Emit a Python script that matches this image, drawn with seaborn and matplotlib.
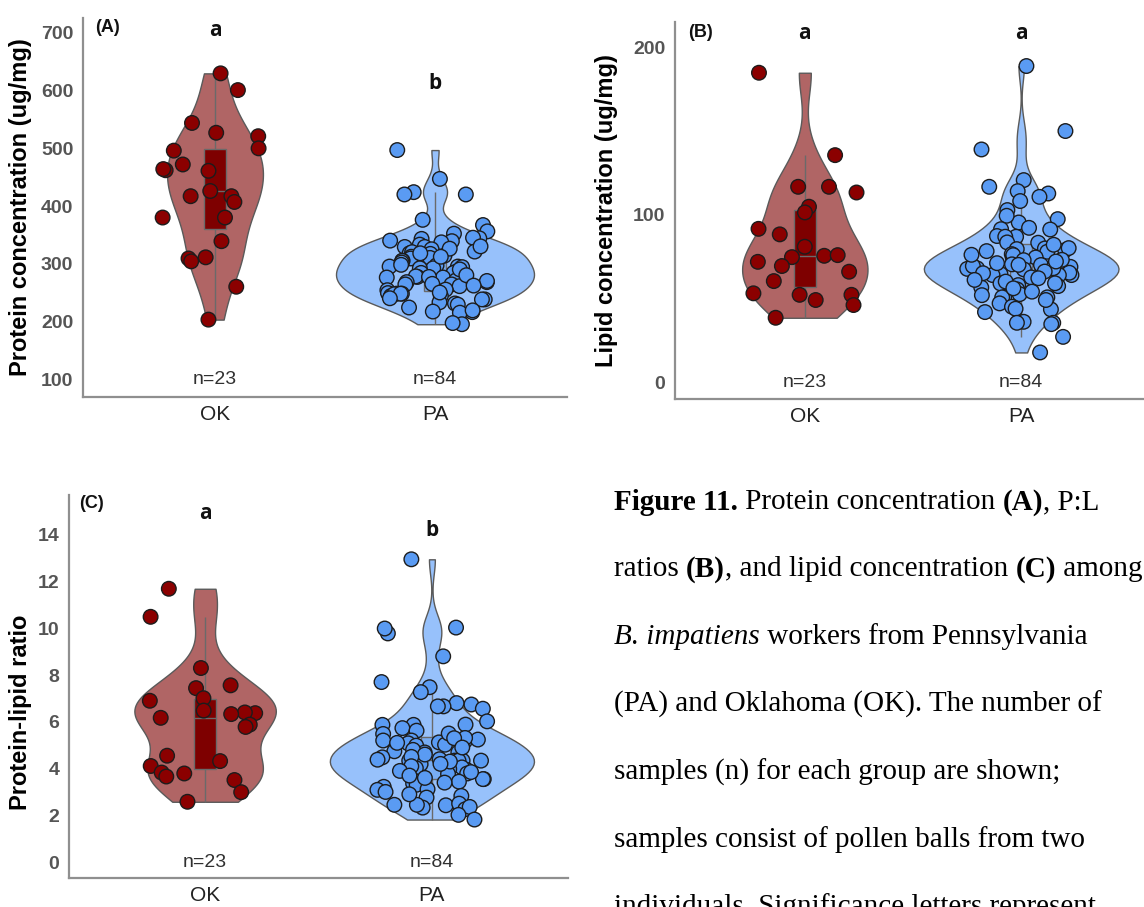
import numpy as np
import pandas as pd
import matplotlib
matplotlib.use("Agg")
import matplotlib.pyplot as plt
import seaborn as sns

# ---------------- data ----------------
sites = ["OK", "PA"]

protein_ok = [630, 601, 544, 527, 521, 500, 496, 472, 462, 461, 464, 426,
              417, 417, 407, 380, 380, 339, 309, 311, 304, 260, 203]
protein_pa = [497, 447, 420, 424, 420, 376, 367, 356, 352, 344, 345, 343,
              340, 339, 337, 333, 329, 329, 325, 318, 320, 317, 321, 314,
              312, 309, 310, 305, 305, 297, 295, 292, 292, 295, 294, 286,
              284, 284, 284, 277, 276, 278, 277, 276, 268, 268, 264, 271,
              264, 261, 265, 255, 254, 249, 248, 248, 244, 247, 244, 248,
              238, 231, 233, 229, 224, 238, 216, 215, 217, 219, 195, 197,
              330, 326, 318, 312, 302, 298, 290, 280, 270, 262, 250, 240]

lipid_ok = [184.7, 135.5, 116.6, 116.6, 113.2, 104.7, 101.3, 91.5, 88.2, 80.8,
            75.4, 75.8, 74.6, 71.8, 69.3, 65.9, 60.3, 52.1, 52.1, 53.0, 49.0,
            46.0, 38.4]
lipid_pa = [188.7, 149.9, 138.9, 120.6, 112.6, 110.6, 114.0, 116.6, 108.1, 102.7, 95.3, 99.3,
            97.3, 91.1, 91.3, 92.1, 87.2, 86.8, 86.8, 83.2, 83.4, 79.4, 79.8, 76.4,
            78.8, 78.2, 77.8, 74.4, 75.8, 74.4, 72.8, 70.3, 67.6, 67.9, 67.9, 67.3,
            66.4, 68.8, 69.9, 69.3, 64.5, 62.5, 63.9, 63.9, 65.3, 63.9, 57.9, 57.3,
            56.5, 58.9, 55.3, 50.6, 52.5, 51.9, 50.6, 50.6, 47.0, 41.8, 45.0, 43.8,
            43.4, 35.4, 36.0, 35.4, 34.6, 27.0, 17.7, 82.0, 80.0, 76.0, 73.0, 71.0,
            70.0, 68.0, 66.0, 65.0, 62.0, 61.0, 60.0, 59.0, 56.0, 54.0, 49.0, 72.0]

ratio_ok = [11.69, 10.49, 8.30, 7.56, 7.44, 7.01, 6.90, 6.48, 6.37, 6.40, 6.33,
            6.17, 5.88, 5.78, 4.55, 4.32, 4.11, 3.83, 3.79, 3.66, 3.51, 2.99, 2.58]
ratio_pa = [12.95, 9.78, 9.99, 10.03, 8.80, 7.70, 7.48, 7.27, 6.74, 6.80, 6.66, 6.66,
            6.56, 6.02, 5.87, 5.73, 5.88, 5.87, 5.62, 5.48, 5.20, 5.20, 5.08, 5.17,
            5.24, 5.31, 5.12, 5.02, 4.98, 4.74, 4.69, 4.69, 4.48, 4.38, 4.34, 4.34,
            4.34, 4.34, 4.34, 4.19, 4.02, 3.94, 4.05, 3.98, 3.79, 3.77, 3.55, 3.51,
            3.44, 3.55, 3.36, 3.40, 3.31, 3.12, 3.22, 3.09, 2.83, 2.76, 2.43, 2.50,
            2.33, 2.45, 2.45, 2.26, 2.36, 2.02, 1.82, 5.50, 5.30, 5.10, 4.90, 4.80,
            4.60, 4.50, 4.40, 4.30, 4.20, 4.10, 3.90, 3.85, 3.70, 3.60, 3.00, 2.90]

panel_tags = ["(A)", "(B)", "(C)"]
sig_protein = ["a", "b"]
sig_lipid = ["a", "a"]
sig_ratio = ["a", "b"]
ylab_protein = "Protein concentration (ug/mg)"
ylab_lipid = "Lipid concentration (ug/mg)"
ylab_ratio = "Protein-lipid ratio"
ticks_protein = [100, 200, 300, 400, 500, 600, 700]
ticks_lipid = [0, 100, 200]
ticks_ratio = [0, 2, 4, 6, 8, 10, 12, 14]

caption_lines = [
    [("Figure 11.", "bold", "normal"), (" Protein concentration ", "normal", "normal"),
     ("(A)", "bold", "normal"), (", P:L", "normal", "normal")],
    [("ratios ", "normal", "normal"), ("(B)", "bold", "normal"),
     (", and lipid concentration ", "normal", "normal"), ("(C)", "bold", "normal"),
     (" among", "normal", "normal")],
    [("B. impatiens", "normal", "italic"), (" workers from Pennsylvania", "normal", "normal")],
    [("(PA) and Oklahoma (OK). The number of", "normal", "normal")],
    [("samples (n) for each group are shown;", "normal", "normal")],
    [("samples consist of pollen balls from two", "normal", "normal")],
    [("individuals. Significance letters represent", "normal", "normal")],
]

# ---------------- style ----------------
sns.set_theme(style="white")
plt.rcParams['font.family'] = ['Liberation Sans', 'DejaVu Sans']

violin_pal = {"OK": "#b06565", "PA": "#97c1fb"}
box_pal = {"OK": "#7e0000", "PA": "#78adf3"}
point_pal = {"OK": "#8b0000", "PA": "#5a9bf3"}

W, H = 1144, 907
fig = plt.figure(figsize=(W / 100, H / 100), dpi=100)


def rect(l, r, b, t):
    return [l / W, 1 - b / H, (r - l) / W, (b - t) / H]


def panel(ax, ok, pa, ylim, yticks, ylabel, tag, sig, sig_y, tag_xy, lab_xy, seed):
    df = pd.DataFrame({"site": ["OK"] * len(ok) + ["PA"] * len(pa),
                       "value": list(ok) + list(pa)})
    sns.violinplot(data=df, x="site", y="value", hue="site", order=sites, hue_order=sites,
                   palette=violin_pal, cut=0, inner=None, density_norm="area",
                   common_norm=True, width=0.9,
                   linewidth=1.0, linecolor="#5a5a5a", saturation=1, legend=False,
                   bw_adjust=0.8, ax=ax)
    sns.boxplot(data=df, x="site", y="value", hue="site", order=sites, hue_order=sites,
                palette=box_pal, width=0.1, showfliers=False, showcaps=False,
                linewidth=1.0, linecolor="#6a6a6a", saturation=1, legend=False, ax=ax)
    n_before = len(ax.collections)
    np.random.seed(seed)
    sns.stripplot(data=df, x="site", y="value", hue="site", order=sites, hue_order=sites,
                  palette=point_pal, jitter=0.25, size=10.5, linewidth=1.0,
                  edgecolor="#1c1c1c", legend=False, ax=ax)
    for c in ax.collections[n_before:]:
        c.set_zorder(5)

    ax.set_xlim(-0.6, 1.6)
    ax.set_ylim(*ylim)
    ax.set_yticks(yticks)
    ax.set_yticklabels([str(t) for t in yticks], fontsize=14, fontweight="bold",
                       color="#555555")
    ax.tick_params(axis="y", length=0, pad=7)
    ax.tick_params(axis="x", length=3, width=1, color="#c8c8c8", labelsize=15,
                   labelcolor="#222222", pad=3)
    ax.set_xlabel("")
    ax.set_ylabel(ylabel, fontsize=17, fontweight="bold", color="black")
    ax.yaxis.set_label_coords(*lab_xy)
    ax.yaxis.label.set_va("center")
    for s in ["top", "right"]:
        ax.spines[s].set_visible(False)
    for s in ["left", "bottom"]:
        ax.spines[s].set_color("#8f8f8f")
        ax.spines[s].set_linewidth(1.6)

    # sample sizes
    for i, grp in enumerate([ok, pa]):
        ax.text(i, yticks[0], f"n={len(grp)}", ha="center", va="center",
                fontsize=14, color="#303030", zorder=6)
    # significance letters
    for i, s in enumerate(sig):
        ax.text(i, sig_y[i], s, ha="center", va="center", fontsize=15,
                fontweight="bold", family=["Open Sans", "DejaVu Sans"], color="#111111")
    ax.text(tag_xy[0], tag_xy[1], tag, transform=ax.transAxes, ha="center", va="center",
            fontsize=13, fontweight="bold", color="#111111")


axA = fig.add_axes(rect(83, 567, 397, 18))
axB = fig.add_axes(rect(675, 1151, 399, 22))
axC = fig.add_axes(rect(69, 568, 878, 495))

panel(axA, protein_ok, protein_pa, (68.8, 726), ticks_protein, ylab_protein, panel_tags[0],
      sig_protein, [705, 613], (0.05, 0.974), (-0.130, 0.5), 3)
panel(axB, lipid_ok, lipid_pa, (-10.1, 215), ticks_lipid, ylab_lipid, panel_tags[1],
      sig_lipid, [208, 208], (0.053, 0.971), (-0.143, 0.5), 7)
panel(axC, ratio_ok, ratio_pa, (-0.68, 15.7), ticks_ratio, ylab_ratio, panel_tags[2],
      sig_ratio, [14.9, 14.2], (0.046, 0.979), (-0.098, 0.433), 11)

# ---------------- caption ----------------
renderer = fig.canvas.get_renderer()
x0 = 614
for i, line in enumerate(caption_lines):
    yc = 502 + 67.5 * i
    x = x0
    for txt, weight, style in line:
        t = fig.text(x / W, 1 - yc / H, txt, ha="left", va="center", fontsize=21,
                     family=["Liberation Serif", "DejaVu Serif"], fontweight=weight,
                     fontstyle=style, color="black")
        x += t.get_window_extent(renderer).width

fig.savefig("out.png", dpi=100)
